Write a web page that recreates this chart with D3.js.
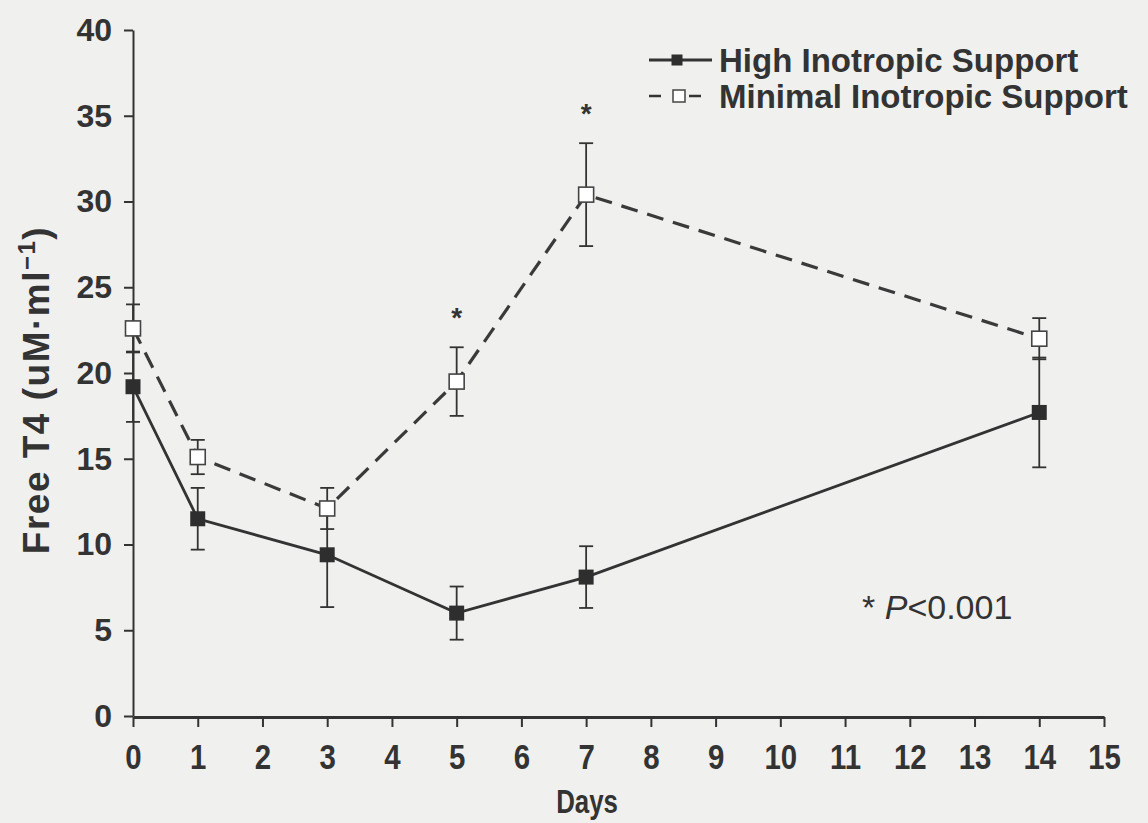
<!DOCTYPE html>
<html><head><meta charset="utf-8">
<script src="https://cdn.jsdelivr.net/npm/d3@7"></script>
<style>
html,body{margin:0;padding:0;background:#f0f0ee;}
svg{display:block;}
</style></head><body>
<svg id="c" width="1148" height="823"></svg>
<script>
// ---- data ----
const days = [0, 1, 3, 5, 7, 14];
const highMean = [19.2, 11.5, 9.4, 6.0, 8.1, 17.7];
const highErr  = [2.05, 1.8, 3.05, 1.55, 1.8, 3.2];
const minMean  = [22.6, 15.1, 12.1, 19.5, 30.4, 22.0];
const minErr   = [1.4, 1.0, 1.2, 2.0, 3.0, 1.2];
const significantDays = [5, 7];
const xTicks = [0,1,2,3,4,5,6,7,8,9,10,11,12,13,14,15];
const yTicks = [0,5,10,15,20,25,30,35,40];
const seriesNames = ["High Inotropic Support", "Minimal Inotropic Support"];
const xTitle = "Days";
const pNoteStar = "* ";
const pNoteP = "P";
const pNoteRest = "<0.001";

// ---- drawing ----
const W = 1148, H = 823;
const svg = d3.select("#c");
svg.append("rect").attr("width", W).attr("height", H).attr("fill", "#f0f0ee");

const x = d3.scaleLinear().domain([0, 15]).range([133, 1104]);
const y = d3.scaleLinear().domain([0, 40]).range([716, 30]);
const ink = "#333";
const fontSans = "'Liberation Sans', Arial, Helvetica, sans-serif";

// y axis
const gy = svg.append("g").attr("transform", "translate(133,0)")
  .call(d3.axisLeft(y).tickValues(yTicks).tickSize(9).tickSizeOuter(0).tickPadding(12));
gy.select(".domain").attr("stroke", ink).attr("stroke-width", 2);
gy.selectAll(".tick line").attr("stroke", ink).attr("stroke-width", 2);
gy.selectAll(".tick text").attr("font-family", fontSans).attr("font-weight", "bold")
  .attr("font-size", 32).attr("fill", ink);

// x axis (condensed labels)
const gx = svg.append("g").attr("transform", "translate(0,717)")
  .call(d3.axisBottom(x).tickValues(xTicks).tickSize(10).tickSizeOuter(0).tickPadding(17));
gx.select(".domain").attr("stroke", ink).attr("stroke-width", 3);
gx.selectAll(".tick line").attr("stroke", ink).attr("stroke-width", 2);
gx.selectAll(".tick text").attr("font-family", fontSans)
  .attr("font-weight", "bold").attr("font-size", 35).attr("fill", ink)
  .attr("transform", "scale(0.84,1)");

// titles
svg.append("text").attr("transform", "translate(587,813) scale(0.76,1)").attr("text-anchor", "middle")
  .attr("font-family", fontSans)
  .attr("font-weight", "bold").attr("font-size", 34).attr("fill", ink).text(xTitle);

const yl = svg.append("text").attr("transform", "translate(49,390) rotate(-90)")
  .attr("text-anchor", "middle").attr("font-family", fontSans).attr("font-weight", "bold")
  .attr("font-size", 37).attr("letter-spacing", 1.5).attr("fill", ink);
yl.append("tspan").text("Free T4 (uM·ml");
yl.append("tspan").attr("font-size", 24).attr("dy", -14).text("−1");
yl.append("tspan").attr("dy", 14).text(")");

// error bars
function errorBars(mean, err, cls) {
  const g = svg.append("g").attr("stroke", ink).attr("stroke-width", 1.8).attr("class", cls);
  days.forEach((d, i) => {
    const cx = x(d), top = y(mean[i] + err[i]), bot = y(mean[i] - err[i]);
    g.append("line").attr("x1", cx).attr("x2", cx).attr("y1", top).attr("y2", bot);
    g.append("line").attr("x1", cx - 7).attr("x2", cx + 7).attr("y1", top).attr("y2", top);
    g.append("line").attr("x1", cx - 7).attr("x2", cx + 7).attr("y1", bot).attr("y2", bot);
  });
}
errorBars(highMean, highErr, "eb-high");
errorBars(minMean, minErr, "eb-min");

const line = d3.line().x(d => x(d[0])).y(d => y(d[1]));
svg.append("path").datum(days.map((d, i) => [d, highMean[i]]))
  .attr("d", line).attr("fill", "none").attr("stroke", ink).attr("stroke-width", 2.8);
svg.append("path").datum(days.map((d, i) => [d, minMean[i]]))
  .attr("d", line).attr("fill", "none").attr("stroke", "#3a3a3a").attr("stroke-width", 3.2)
  .attr("stroke-dasharray", "17,10");

const S = 15;
svg.append("g").selectAll("rect").data(days).join("rect")
  .attr("x", (d) => x(d) - S / 2).attr("y", (d, i) => y(highMean[i]) - S / 2)
  .attr("width", S).attr("height", S).attr("fill", "#2e2e2e");
svg.append("g").selectAll("rect").data(days).join("rect")
  .attr("x", (d) => x(d) - S / 2).attr("y", (d, i) => y(minMean[i]) - S / 2)
  .attr("width", S).attr("height", S).attr("fill", "#ffffff").attr("stroke", "#444").attr("stroke-width", 1.6);

// significance stars
significantDays.forEach(d => {
  const i = days.indexOf(d);
  svg.append("text").attr("x", x(d)).attr("y", y(minMean[i] + minErr[i]) - 20)
    .attr("text-anchor", "middle").attr("font-family", fontSans).attr("font-weight", "bold")
    .attr("font-size", 28).attr("fill", ink).text("*");
});

// legend
const lg = svg.append("g");
const legY = [60, 96];
lg.append("line").attr("x1", 649).attr("x2", 712).attr("y1", legY[0]).attr("y2", legY[0])
  .attr("stroke", ink).attr("stroke-width", 2.8);
lg.append("rect").attr("x", 677 - 5.5).attr("y", legY[0] - 5.5).attr("width", 11).attr("height", 11).attr("fill", "#2e2e2e");
lg.append("line").attr("x1", 649).attr("x2", 712).attr("y1", legY[1]).attr("y2", legY[1])
  .attr("stroke", ink).attr("stroke-width", 2.6).attr("stroke-dasharray", "12,28");
lg.append("rect").attr("x", 679 - 6).attr("y", legY[1] - 6).attr("width", 12).attr("height", 12)
  .attr("fill", "#fff").attr("stroke", "#444").attr("stroke-width", 1.5);
seriesNames.forEach((n, i) => {
  lg.append("text").attr("x", 719).attr("y", legY[i]).attr("dy", "0.36em")
    .attr("font-family", fontSans).attr("font-weight", "bold").attr("font-size", 33)
    .attr("fill", ink).text(n);
});

// p-value note
const pn = svg.append("text").attr("x", 862).attr("y", 619).attr("font-family", fontSans)
  .attr("font-size", 34).attr("fill", ink);
pn.append("tspan").text(pNoteStar);
pn.append("tspan").attr("font-style", "italic").text(pNoteP);
pn.append("tspan").text(pNoteRest);
</script>
</body></html>
